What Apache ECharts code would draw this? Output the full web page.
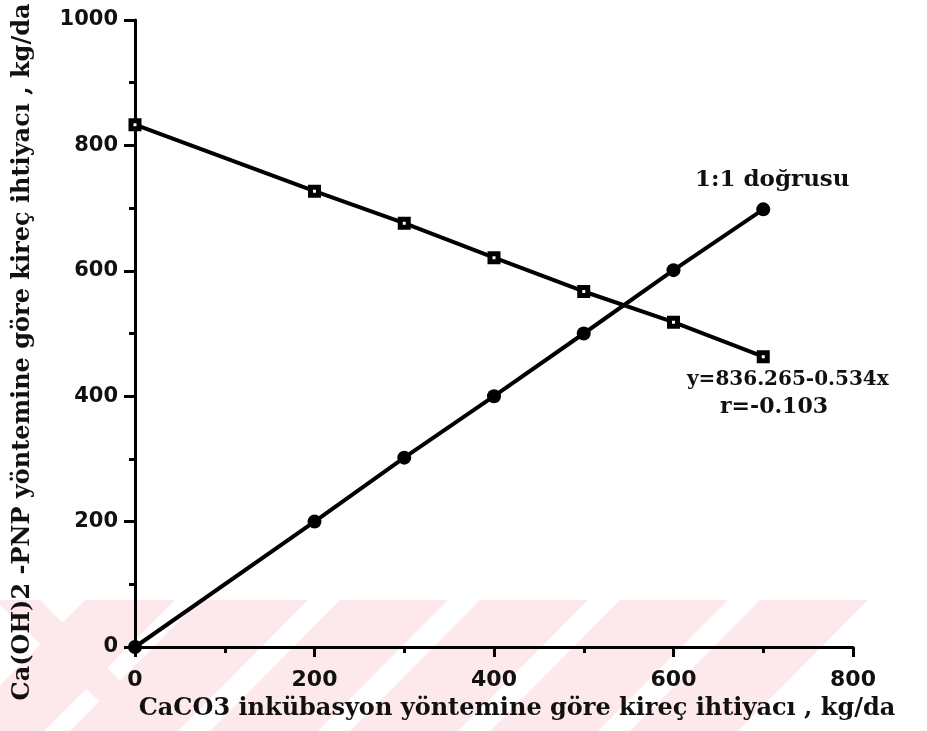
<!DOCTYPE html>
<html>
<head>
<meta charset="utf-8">
<script src="https://cdn.jsdelivr.net/npm/echarts@6/dist/echarts.min.js"></script>
<style>
html,body{margin:0;padding:0;background:#fff;}
#chart{width:927px;height:731px;}
</style>
</head>
<body>
<div id="chart"></div>
<script>
// Data
const xValues = [0, 200, 300, 400, 500, 600, 700];
const pnpValues = [833, 727, 676, 621, 567, 518, 463];   // Ca(OH)2-PNP (squares)
const lineValues = [0, 200, 302, 400, 500, 601, 698];    // 1:1 line (circles)
const xTicks = [0, 200, 400, 600, 800];
const yTicks = [0, 200, 400, 600, 800, 1000];

const xTitle = 'CaCO3 inkübasyon yöntemine göre kireç ihtiyacı , kg/da';
const yTitle = 'Ca(OH)2 -PNP yöntemine göre kireç ihtiyacı , kg/da';
const lineLabel = '1:1 doğrusu';
const eqLabel = 'y=836.265-0.534x';
const rLabel = 'r=-0.103';

const chart = echarts.init(document.getElementById('chart'), null, {renderer: 'canvas'});

// watermark stripes (decorative)
const wmColor = '#fde9ec';
const wmStarts = [200, 340, 480, 620, 760];
const wm = wmStarts.map(a => ({
  type: 'polygon', z: -10, silent: true,
  shape: {points: [[a, 600], [a + 108, 600], [a - 22, 731], [a - 130, 731]]},
  style: {fill: wmColor}
}));
wm.push({
  type: 'polygon', z: -10, silent: true,
  shape: {points: [[0, 600], [40, 600], [170, 731], [130, 731], [0, 605]]},
  style: {fill: wmColor}
});
wm.push({
  type: 'polygon', z: -10, silent: true,
  shape: {points: [[85, 600], [175, 600], [44, 731], [0, 731], [0, 685]]},
  style: {fill: wmColor}
});

const serif = '"DejaVu Serif", "Liberation Serif", serif';
const sans = '"DejaVu Sans", "Liberation Sans", sans-serif';

chart.setOption({
  backgroundColor: '#fff',
  animation: false,
  grid: {left: 135, right: 74, top: 20, bottom: 84, containLabel: false},
  xAxis: {
    type: 'value', min: 0, max: 800, interval: 200,
    name: xTitle, nameLocation: 'middle', nameGap: 50,
    nameTextStyle: {fontFamily: serif, fontWeight: 'bold', fontSize: 24, color: '#111', padding: [0, 0, 0, 46]},
    axisLine: {show: true, onZero: false, lineStyle: {color: '#000', width: 3}},
    axisTick: {show: true, inside: false, length: 10, lineStyle: {color: '#000', width: 3}},
    minorTick: {show: true, splitNumber: 2, length: 6, lineStyle: {color: '#000', width: 3}},
    splitLine: {show: false},
    axisLabel: {margin: 22, fontFamily: sans, fontWeight: 'bold', fontSize: 22, color: '#111',
      formatter: v => xTicks.includes(v) ? String(v) : ''}
  },
  yAxis: {
    type: 'value', min: 0, max: 1000, interval: 200,
    name: yTitle, nameLocation: 'middle', nameGap: 100,
    nameTextStyle: {fontFamily: serif, fontWeight: 'bold', fontSize: 24, color: '#111', padding: [0, 37, 0, 0]},
    axisLine: {show: true, onZero: false, lineStyle: {color: '#000', width: 3}},
    axisTick: {show: true, inside: false, length: 11, lineStyle: {color: '#000', width: 3}},
    minorTick: {show: true, splitNumber: 2, length: 6, lineStyle: {color: '#000', width: 3}},
    splitLine: {show: false},
    axisLabel: {margin: 17, fontFamily: sans, fontWeight: 'bold', fontSize: 21, color: '#111',
      formatter: v => yTicks.includes(v) ? String(v) : ''}
  },
  graphic: wm.concat([
    {type: 'text', left: 695, top: 169, z: 10, style: {text: lineLabel, font: 'bold 23px ' + serif, fill: '#111'}},
    {type: 'text', left: 687, top: 370, z: 10, style: {text: eqLabel, font: 'bold 20px ' + serif, fill: '#111'}},
    {type: 'text', left: 720, top: 396, z: 10, style: {text: rLabel, font: 'bold 22px ' + serif, fill: '#111'}}
  ]),
  series: [
    {
      type: 'line', name: 'PNP',
      data: xValues.map((x, i) => [x, pnpValues[i]]),
      symbol: 'rect', symbolSize: 8, showAllSymbol: true,
      lineStyle: {color: '#000', width: 4},
      itemStyle: {color: '#fff', borderColor: '#000', borderWidth: 5},
      z: 3
    },
    {
      type: 'line', name: '1:1',
      data: xValues.map((x, i) => [x, lineValues[i]]),
      symbol: 'circle', symbolSize: 14, showAllSymbol: true,
      lineStyle: {color: '#000', width: 4},
      itemStyle: {color: '#000'},
      z: 3
    }
  ]
});
</script>
</body>
</html>
